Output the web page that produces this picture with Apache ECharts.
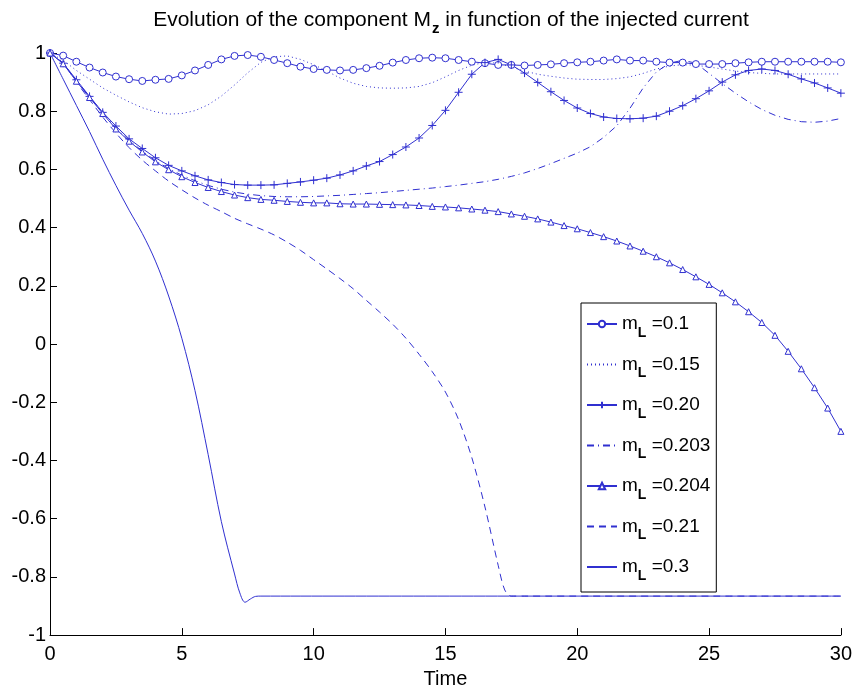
<!DOCTYPE html>
<html>
<head>
<meta charset="utf-8">
<script src="https://cdn.jsdelivr.net/npm/echarts@6/dist/echarts.min.js"></script>
<style>
  html, body { margin: 0; padding: 0; background: #fff; }
  #chart { width: 855px; height: 694px; }
</style>
</head>
<body>
<div id="chart"></div>
<script>
// --- data ---
const time = [0, 0.5, 1, 1.5, 2, 2.5, 3, 3.5, 4, 4.5, 5, 5.5, 6, 6.5, 7, 7.5, 8, 8.5, 9, 9.5, 10,
  10.5, 11, 11.5, 12, 12.5, 13, 13.5, 14, 14.5, 15, 15.5, 16, 16.5, 17, 17.5, 18, 18.5, 19, 19.5, 20,
  20.5, 21, 21.5, 22, 22.5, 23, 23.5, 24, 24.5, 25, 25.5, 26, 26.5, 27, 27.5, 28, 28.5, 29, 29.5, 30];

const mz010 = [1.000, 0.991, 0.970, 0.950, 0.933, 0.919, 0.910, 0.904, 0.908, 0.911, 0.923, 0.940, 0.959, 0.978, 0.990, 0.993, 0.987, 0.976, 0.965, 0.953, 0.945,
  0.942, 0.940, 0.942, 0.948, 0.956, 0.967, 0.976, 0.982, 0.984, 0.982, 0.976, 0.970, 0.965, 0.959, 0.959, 0.957, 0.959, 0.961, 0.965, 0.968,
  0.970, 0.974, 0.978, 0.974, 0.974, 0.970, 0.967, 0.967, 0.962, 0.962, 0.962, 0.965, 0.968, 0.970, 0.970, 0.970, 0.970, 0.970, 0.970, 0.968];

const mz015 = [1.000, 0.975, 0.940, 0.910, 0.880, 0.855, 0.832, 0.812, 0.798, 0.790, 0.792, 0.802, 0.822, 0.852, 0.890, 0.932, 0.968, 0.987, 0.990, 0.978, 0.960,
  0.938, 0.914, 0.896, 0.885, 0.880, 0.879, 0.880, 0.885, 0.898, 0.918, 0.940, 0.958, 0.968, 0.965, 0.952, 0.938, 0.927, 0.920, 0.914, 0.910,
  0.909, 0.909, 0.912, 0.918, 0.930, 0.945, 0.955, 0.960, 0.958, 0.952, 0.945, 0.938, 0.933, 0.930, 0.928, 0.928, 0.928, 0.928, 0.928, 0.928];

const mz020 = [1.000, 0.965, 0.908, 0.851, 0.796, 0.749, 0.705, 0.672, 0.640, 0.614, 0.595, 0.578, 0.564, 0.555, 0.548, 0.546, 0.546, 0.547, 0.552, 0.557, 0.563,
  0.570, 0.581, 0.595, 0.612, 0.627, 0.651, 0.677, 0.708, 0.751, 0.803, 0.865, 0.927, 0.967, 0.978, 0.959, 0.931, 0.899, 0.867, 0.837, 0.811,
  0.792, 0.780, 0.775, 0.774, 0.776, 0.783, 0.800, 0.819, 0.843, 0.870, 0.900, 0.925, 0.940, 0.945, 0.940, 0.927, 0.911, 0.897, 0.880, 0.862];

const mz0203 = [1.000, 0.965, 0.905, 0.850, 0.795, 0.742, 0.700, 0.663, 0.630, 0.603, 0.580, 0.561, 0.545, 0.532, 0.522, 0.515, 0.510, 0.507, 0.506, 0.506, 0.507,
  0.509, 0.511, 0.514, 0.517, 0.520, 0.524, 0.528, 0.532, 0.536, 0.541, 0.546, 0.552, 0.558, 0.566, 0.576, 0.588, 0.603, 0.620, 0.638, 0.656,
  0.678, 0.710, 0.750, 0.810, 0.880, 0.935, 0.965, 0.975, 0.965, 0.930, 0.895, 0.862, 0.832, 0.806, 0.786, 0.772, 0.764, 0.762, 0.766, 0.775];

const mz0204 = [1.000, 0.963, 0.903, 0.847, 0.792, 0.739, 0.697, 0.660, 0.626, 0.599, 0.575, 0.555, 0.538, 0.524, 0.512, 0.503, 0.497, 0.494, 0.490, 0.487, 0.485,
  0.485, 0.482, 0.481, 0.481, 0.480, 0.479, 0.478, 0.476, 0.473, 0.471, 0.468, 0.464, 0.460, 0.455, 0.447, 0.439, 0.430, 0.419, 0.407, 0.396,
  0.383, 0.369, 0.354, 0.337, 0.319, 0.300, 0.279, 0.256, 0.231, 0.205, 0.176, 0.145, 0.111, 0.074, 0.030, -0.025, -0.085, -0.150, -0.220, -0.300];

// m_L = 0.21 (denser around the flip)
const time021 = [0, 0.5, 1, 1.5, 2, 2.5, 3, 3.5, 4, 4.5, 5, 5.5, 6, 6.5, 7, 7.5, 8, 8.5, 9, 9.5, 10,
  10.5, 11, 11.5, 12, 12.5, 13, 13.5, 14, 14.5, 15, 15.5, 16, 16.5, 17, 17.25, 17.5, 18, 30];
const mz021 = [1.000, 0.965, 0.900, 0.840, 0.780, 0.725, 0.675, 0.632, 0.595, 0.560, 0.530, 0.502, 0.477, 0.455, 0.432, 0.413, 0.395, 0.375, 0.350, 0.322, 0.290,
  0.258, 0.225, 0.190, 0.150, 0.110, 0.068, 0.020, -0.035, -0.095, -0.165, -0.260, -0.390, -0.560, -0.760, -0.845, -0.866, -0.866, -0.866];

// m_L = 0.3
const time03 = [0, 0.5, 1, 1.5, 2, 2.5, 3, 3.5, 4, 4.5, 5, 5.5, 6, 6.5, 7, 7.2, 7.4, 7.6, 7.8, 8, 30];
const mz03 = [1.000, 0.910, 0.820, 0.730, 0.635, 0.545, 0.460, 0.380, 0.285, 0.165, 0.020, -0.160, -0.380, -0.610, -0.790, -0.855, -0.887, -0.876, -0.867, -0.866, -0.866];

const legendValues = ['0.1', '0.15', '0.20', '0.203', '0.204', '0.21', '0.3'];
const xTicks = [0, 5, 10, 15, 20, 25, 30];

// --- helpers ---
const BLUE = '#3030d0';
const FONT = '"Liberation Sans", Arial, Helvetica, sans-serif';

function pairs(xs, ys) {
    return xs.map((x, i) => [x, ys[i]]);
}

function makeSeries(idx, xs, ys, opts) {
    return Object.assign({
        name: 'mL=' + legendValues[idx],
        type: 'line',
        data: pairs(xs, ys),
        symbol: 'none',
        showSymbol: true,
        color: BLUE,
        lineStyle: { color: BLUE, width: 1 },
        itemStyle: { color: '#fff', borderColor: BLUE, borderWidth: 1 },
        emphasis: { disabled: true },
        animation: false,
        z: 2
    }, opts);
}

const plusPath = 'path://M0,5L10,5M5,0L5,10';

const seriesList = [
    makeSeries(0, time, mz010, { symbol: 'circle', symbolSize: 7 }),
    makeSeries(1, time, mz015, { lineStyle: { color: BLUE, width: 1, type: [1, 3] } }),
    makeSeries(2, time, mz020, { symbol: plusPath, symbolSize: 8,
        itemStyle: { color: 'none', borderColor: BLUE, borderWidth: 1 } }),
    makeSeries(3, time, mz0203, { lineStyle: { color: BLUE, width: 1, type: [7, 4, 1, 4] } }),
    makeSeries(4, time, mz0204, { symbol: 'triangle', symbolSize: 6 }),
    makeSeries(5, time021, mz021, { smooth: 0.3, lineStyle: { color: BLUE, width: 1, type: [7, 5] } }),
    makeSeries(6, time03, mz03, { smooth: 0.35 })
];

// legend entries: line only for series drawn without markers
const legendData = seriesList.map(s => {
    const item = { name: s.name };
    if (s.symbol === 'none') {
        item.itemStyle = { color: 'transparent', borderColor: 'transparent', borderWidth: 0 };
    }
    return item;
});

const chart = echarts.init(document.getElementById('chart'), null, { renderer: 'canvas' });

chart.setOption({
    animation: false,
    backgroundColor: '#fff',
    title: {
        text: '{a|Evolution of the component M}{b|z}{a| in function of the injected current}',
        left: 446,
        top: 3,
        textAlign: 'center',
        textStyle: {
            fontWeight: 'normal',
            rich: {
                a: { fontFamily: FONT, fontSize: 21, fontWeight: 'normal', color: '#000', lineHeight: 24, verticalAlign: 'middle' },
                b: { fontFamily: FONT, fontSize: 15, fontWeight: 'bold', color: '#000', lineHeight: 15, verticalAlign: 'middle', padding: [18, 0, 0, 1] }
            }
        }
    },
    grid: { left: 50, right: 13, top: 53, bottom: 55, containLabel: false },
    legend: {
        orient: 'vertical',
        left: 581,
        top: 303,
        itemWidth: 30,
        itemHeight: 8,
        itemGap: 8.5,
        padding: [5, 6, 9, 5],
        backgroundColor: '#fff',
        borderColor: '#000',
        borderWidth: 1,
        borderRadius: 0,
        data: legendData,
        formatter: name => '{m|m}{s|L}{v| =' + name.split('=')[1] + '}',
        textStyle: {
            rich: {
                m: { fontFamily: FONT, fontSize: 19, color: '#000', lineHeight: 22, verticalAlign: 'middle' },
                s: { fontFamily: FONT, fontSize: 14, fontWeight: 'bold', color: '#000', lineHeight: 14, verticalAlign: 'middle', padding: [18, 0, 0, 0] },
                v: { fontFamily: FONT, fontSize: 19, color: '#000', lineHeight: 22, verticalAlign: 'middle' }
            }
        }
    },
    xAxis: {
        type: 'value',
        min: xTicks[0],
        max: xTicks[xTicks.length - 1],
        interval: 5,
        name: 'Time',
        nameLocation: 'middle',
        nameGap: 31,
        nameTextStyle: { fontFamily: FONT, fontSize: 20, color: '#000' },
        axisLine: { onZero: false, lineStyle: { color: '#000', width: 1 } },
        axisTick: { inside: true, length: 7, lineStyle: { color: '#000' } },
        axisLabel: { fontFamily: FONT, fontSize: 20, color: '#000', margin: 9 },
        splitLine: { show: false }
    },
    yAxis: {
        type: 'value',
        min: -1,
        max: 1,
        interval: 0.2,
        axisLine: { show: true, onZero: false, lineStyle: { color: '#000', width: 1 } },
        axisTick: { show: true, inside: true, length: 7, lineStyle: { color: '#000' } },
        axisLabel: { fontFamily: FONT, fontSize: 20, color: '#000', margin: 4 },
        splitLine: { show: false }
    },
    series: seriesList
});
</script>
</body>
</html>
